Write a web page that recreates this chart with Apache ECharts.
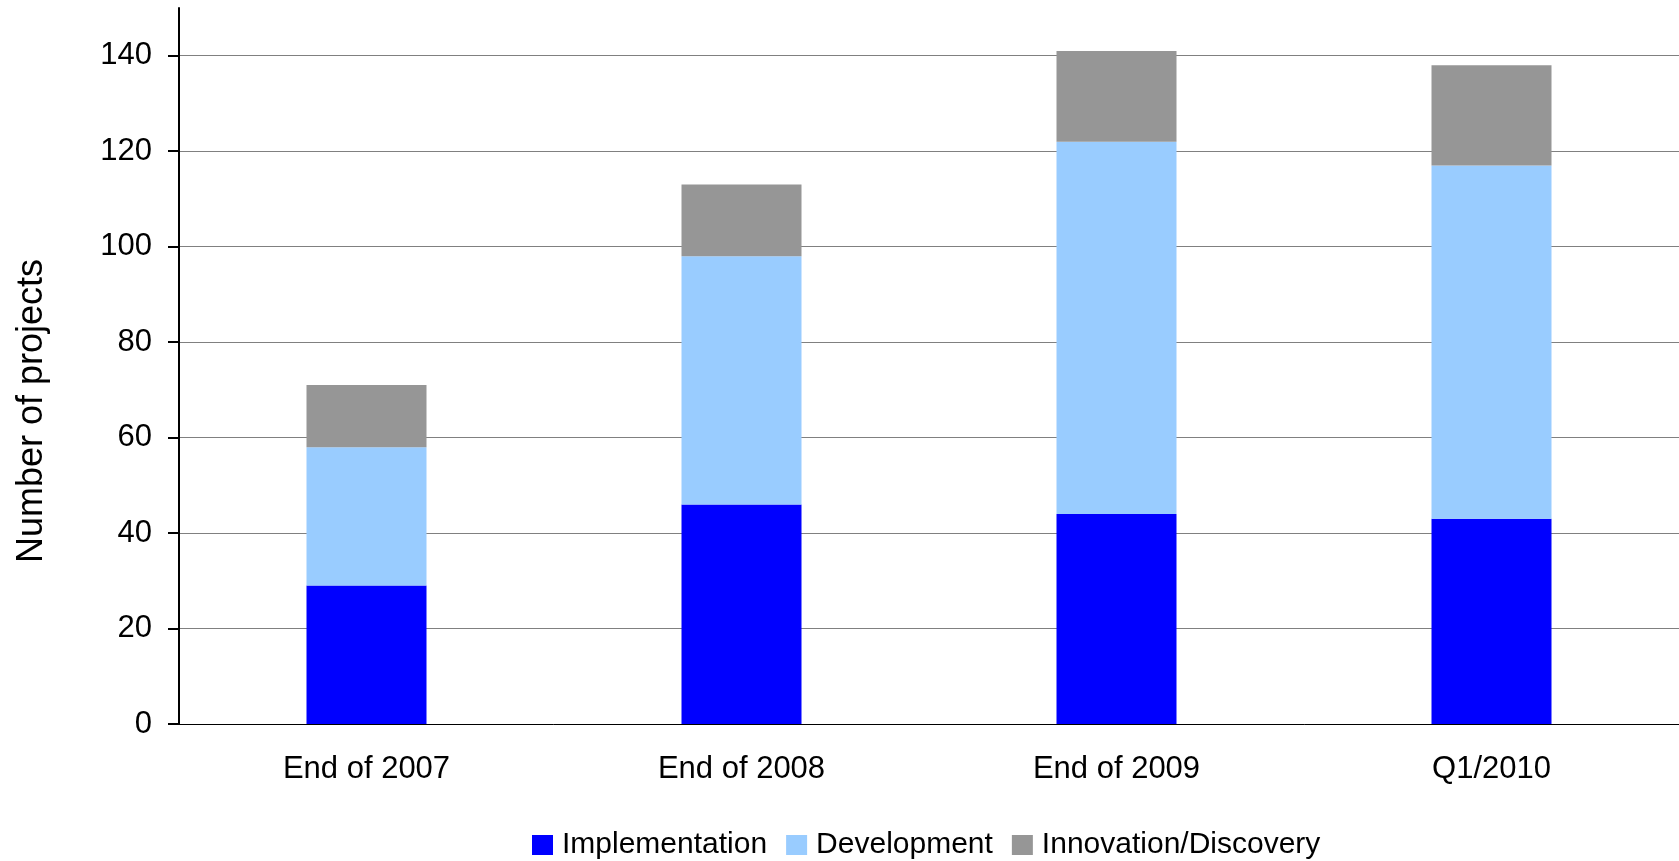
<!DOCTYPE html>
<html>
<head>
<meta charset="utf-8">
<script src="https://cdn.jsdelivr.net/npm/echarts@6/dist/echarts.min.js"></script>
<style>
  html, body { margin: 0; padding: 0; background: #fff; }
  #chart { width: 1679px; height: 861px; }
</style>
</head>
<body>
<div id="chart"></div>
<script>
const categories = ['End of 2007', 'End of 2008', 'End of 2009', 'Q1/2010'];
const implementation = [29, 46, 44, 43];
const development = [29, 52, 78, 74];
const innovation = [13, 15, 19, 21];
const yTicks = [0, 20, 40, 60, 80, 100, 120, 140];
const yMax = 150;
const yTitle = 'Number of projects';

const FONT = "'Liberation Sans', Arial, sans-serif";
const chart = echarts.init(document.getElementById('chart'), null, { renderer: 'canvas' });

const gridColors = yTicks.map((v, i) => i === 0 ? 'rgba(0,0,0,0)' : '#808080');
gridColors.push('rgba(0,0,0,0)');

const option = {
  backgroundColor: '#ffffff',
  animation: false,
  textStyle: { fontFamily: FONT },
  grid: { left: 179, right: -6, top: 8, bottom: 137, containLabel: false },
  legend: {
    left: 527,
    top: 825,
    itemWidth: 21,
    itemHeight: 20,
    itemGap: 19,
    icon: 'rect',
    textStyle: { fontSize: 30, color: '#000', fontFamily: FONT, padding: [0, 0, 0, 4] },
    data: ['Implementation', 'Development', 'Innovation/Discovery']
  },
  xAxis: {
    type: 'category',
    data: categories,
    boundaryGap: true,
    axisLine: { show: true, lineStyle: { color: '#000', width: 1 } },
    axisTick: { show: false },
    axisLabel: { fontSize: 31, color: '#000', margin: 30, fontFamily: FONT },
    splitLine: { show: false }
  },
  yAxis: {
    type: 'value',
    min: 0,
    max: yMax,
    interval: 20,
    axisLine: { show: true, lineStyle: { color: '#000', width: 2 } },
    axisTick: { show: true, length: 11, customValues: yTicks, lineStyle: { color: '#000', width: 2 } },
    axisLabel: { fontSize: 31, color: '#000', margin: 27, fontFamily: FONT, customValues: yTicks },
    splitLine: { show: true, lineStyle: { color: gridColors, width: 1 } }
  },
  graphic: [{
    type: 'text',
    x: 32,
    y: 411,
    rotation: Math.PI / 2,
    style: {
      text: yTitle,
      font: "36px 'Liberation Sans', Arial, sans-serif",
      fill: '#000',
      align: 'center',
      verticalAlign: 'middle'
    }
  }],
  series: [
    { name: 'Implementation', type: 'bar', stack: 'total', barWidth: 120, data: implementation, itemStyle: { color: '#0000FF' } },
    { name: 'Development', type: 'bar', stack: 'total', barWidth: 120, data: development, itemStyle: { color: '#99CCFF' } },
    { name: 'Innovation/Discovery', type: 'bar', stack: 'total', barWidth: 120, data: innovation, itemStyle: { color: '#969696' } }
  ]
};
chart.setOption(option);
</script>
</body>
</html>
